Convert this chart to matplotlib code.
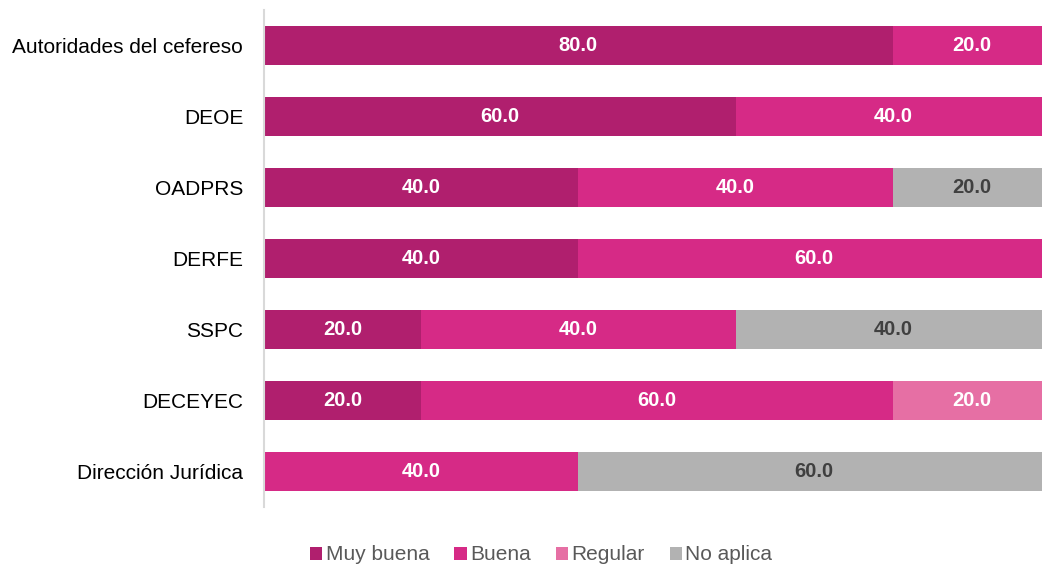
import matplotlib.pyplot as plt
import numpy as np

plt.rcParams['font.family'] = ['Liberation Sans', 'DejaVu Sans']

categories = ["Autoridades del cefereso", "DEOE", "OADPRS", "DERFE",
              "SSPC", "DECEYEC", "Dirección Jurídica"]
series_names = ["Muy buena", "Buena", "Regular", "No aplica"]
muy_buena = [80.0, 60.0, 40.0, 40.0, 20.0, 20.0, 0.0]
buena = [20.0, 40.0, 40.0, 60.0, 40.0, 60.0, 40.0]
regular = [0.0, 0.0, 0.0, 0.0, 0.0, 20.0, 0.0]
no_aplica = [0.0, 0.0, 20.0, 0.0, 40.0, 0.0, 60.0]

colors = ["#B01F6E", "#D62A86", "#E66FA4", "#B2B2B2"]
text_colors = ["white", "white", "white", "#404040"]

W, H = 1042, 564
fig = plt.figure(figsize=(W / 100, H / 100), dpi=100)
# axes extends a little past the right edge, like the original crop
ax = fig.add_axes([264 / W, 1 - 507 / H, 786 / W, 497 / H])

y = np.arange(len(categories))
left = np.zeros(len(categories))
for name, vals, col, tcol in zip(series_names, [muy_buena, buena, regular, no_aplica],
                                 colors, text_colors):
    vals = np.array(vals)
    ax.barh(y, vals, left=left, height=0.56, color=col, label=name)
    for yi, (l, v) in enumerate(zip(left, vals)):
        if v > 0:
            ax.text(l + v / 2, yi, f"{v:.1f}", ha="center", va="center",
                    color=tcol, fontsize=14.5, fontweight="bold")
    left += vals

ax.set_xlim(0, 100)
ax.set_ylim(len(categories) - 0.5, -0.5)
ax.set_yticks(y)
ax.set_yticklabels(categories, fontsize=15, color="black")
ax.tick_params(axis="y", length=0, pad=15)
ax.set_xticks([])
for s in ["top", "right", "bottom"]:
    ax.spines[s].set_visible(False)
ax.spines["left"].set_color("#D9D9D9")
ax.spines["left"].set_linewidth(1.5)

leg = fig.legend(loc="center", bbox_to_anchor=(541 / W, 1 - 555 / H), ncol=4,
                 frameon=False, fontsize=15, handlelength=0.6, handleheight=0.6,
                 handletextpad=0.15, columnspacing=1.2)
for t in leg.get_texts():
    t.set_color("#595959")

fig.savefig("out.png", dpi=100)
